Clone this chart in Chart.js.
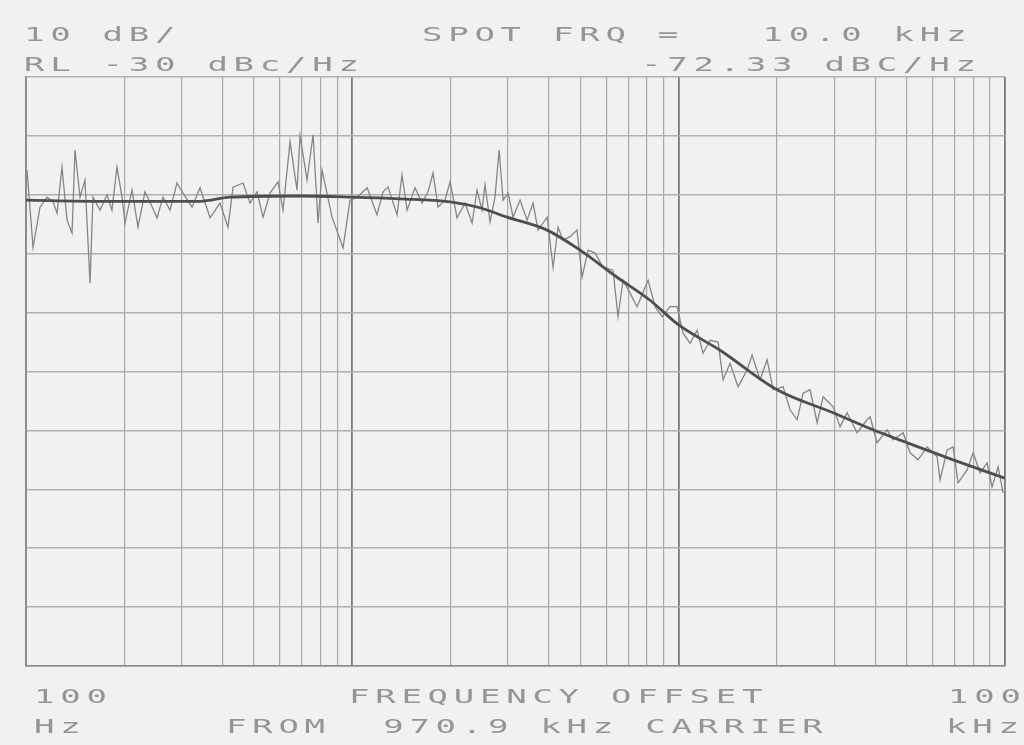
<!DOCTYPE html>
<html>
<head>
<meta charset="utf-8">
<script src="https://cdn.jsdelivr.net/npm/chart.js@4"></script>
<style>
  html, body { margin: 0; padding: 0; background: #f1f1f1; }
  #wrap { position: relative; width: 1024px; height: 745px; overflow: hidden; }
  #plot { position: absolute; left: 0; top: 0; }
  .txt {
    position: absolute;
    font-family: "DejaVu Sans Mono", monospace;
    font-size: 20px;
    line-height: 20px;
    color: #959595;
    white-space: pre;
    letter-spacing: 3.37px;
    transform: scaleX(1.7);
    transform-origin: 0 50%;
  }
</style>
</head>
<body>
<div id="wrap">
  <canvas id="plot" width="1024" height="745"></canvas>
  <div class="txt" style="left:24px; top:24px;">10 dB/</div>
  <div class="txt" style="left:422px; top:24px;">SPOT FRQ =   10.0 kHz</div>
  <div class="txt" style="left:24px; top:54px;">RL -30 dBc/Hz</div>
  <div class="txt" style="left:641px; top:54px;">-72.33 dBC/Hz</div>
  <div class="txt" style="left:34px; top:686px;">100</div>
  <div class="txt" style="left:349px; top:686px;">FREQUENCY OFFSET</div>
  <div class="txt" style="left:948px; top:686px;">100</div>
  <div class="txt" style="left:34px; top:716px;">Hz</div>
  <div class="txt" style="left:226px; top:716px;">FROM  970.9 kHz CARRIER</div>
  <div class="txt" style="left:946px; top:716px;">kHz</div>
</div>
<script>
// measured trace (offset frequency in Hz, level in dBc/Hz)
const noiseFreq = [100.7, 105.1, 110.4, 116.0, 121.0, 124.5, 128.9, 133.6, 138.4, 141.3,
  146.4, 151.6, 157.1, 160.4, 168.6, 177.1, 183.4, 190.0, 196.9, 201.1,
  211.3, 220.4, 231.6, 243.3, 252.0, 263.0, 276.3, 290.2, 302.8, 322.7,
  341.5, 366.5, 393.1, 416.0, 430.9, 462.4, 485.8, 510.5, 532.6, 559.5,
  591.9, 613.2, 644.4, 676.9, 691.5, 726.6, 758.1, 785.3, 807.7, 866.6,
  936.5, 984.0, 1034, 1110, 1190, 1242, 1287, 1371, 1420, 1472,
  1556, 1636, 1706, 1767, 1831, 1923, 1993, 2094, 2215, 2328,
  2411, 2497, 2550, 2642, 2737, 2817, 2897, 3001, 3108, 3266,
  3431, 3580, 3708, 3952, 4122, 4270, 4422, 4647, 4882, 5058,
  5277, 5543, 5867, 6294, 6519, 6753, 7096, 7456, 8058, 8467,
  8896, 9410, 9887, 10316, 10839, 11388, 11880, 12482, 13208, 13680,
  14373, 15206, 16212, 16788, 17766, 18664, 19472, 20893, 21950, 23065,
  24063, 25276, 26566, 27712, 29733, 31235, 32815, 35213, 37786, 38592,
  40551, 43527, 45412, 48732, 51195, 54161, 57713, 61930, 63255, 66463,
  69343, 71830, 76560, 79870, 83900, 88130, 91290, 95260, 98670];
const noiseLevel = [-45.8, -58.9, -52.1, -50.4, -51.2, -53.1, -45.3, -54.3, -56.5, -42.4,
  -50.4, -47.5, -65.0, -50.4, -52.6, -50.0, -52.6, -45.3, -50.4, -54.8,
  -49.2, -55.5, -49.5, -52.0, -53.9, -50.4, -52.6, -48.0, -49.7, -52.1,
  -48.8, -53.9, -51.4, -55.5, -48.7, -48.0, -51.4, -49.5, -53.8, -49.7,
  -47.8, -52.6, -41.0, -49.2, -40.0, -47.5, -39.8, -54.8, -45.8, -53.8,
  -59.0, -50.9, -50.4, -48.8, -53.4, -49.5, -48.7, -53.4, -46.6, -52.6,
  -48.8, -51.4, -49.5, -46.3, -52.1, -50.9, -47.8, -53.9, -51.4, -54.8,
  -49.2, -52.6, -48.3, -54.6, -50.4, -42.4, -50.9, -49.7, -53.8, -50.9,
  -54.3, -51.4, -56.0, -53.8, -62.3, -55.5, -57.7, -57.1, -56.0, -64.0,
  -59.4, -59.9, -62.3, -62.8, -70.7, -64.5, -66.7, -69.0, -64.5, -69.0,
  -70.7, -69.0, -69.0, -73.5, -75.2, -73.0, -76.9, -74.7, -75.0, -81.4,
  -78.6, -82.6, -79.7, -77.2, -81.4, -78.0, -83.1, -82.6, -86.5, -88.2,
  -83.7, -83.1, -88.7, -84.3, -86.0, -89.4, -87.0, -90.4, -88.2, -87.7,
  -92.1, -89.9, -91.6, -90.4, -93.8, -95.0, -92.8, -94.5, -98.4, -93.3,
  -92.8, -98.9, -96.7, -93.8, -97.2, -95.5, -99.6, -96.2, -100.6];

// averaged (smoothed) trace
const smoothFreq = [100, 168.6, 341.5, 421.7, 691.5, 1000, 1400, 1993, 2461, 2979,
  3952, 4986, 6475, 8173, 10000, 13394, 20028, 29733, 39430, 50130, 69340, 100000];
const smoothLevel = [-50.9, -51.1, -51.1, -50.4, -50.2, -50.4, -50.7, -51.2, -52.2, -53.8,
  -56.0, -59.4, -64.0, -67.9, -72.1, -76.4, -83.1, -87.0, -89.9, -92.1, -95.0, -98.1];

// graticule
const freqGrid = [100, 200, 300, 400, 500, 600, 700, 800, 900,
  1000, 2000, 3000, 4000, 5000, 6000, 7000, 8000, 9000,
  10000, 20000, 30000, 40000, 50000, 60000, 70000, 80000, 90000, 100000];
const levelTop = -30;
const levelBottom = -130;
const dbPerDiv = 10;

const toPoints = (xs, ys) => xs.map((x, i) => ({ x: x, y: ys[i] }));
const isDecade = v => [100, 1000, 10000, 100000].includes(v);

new Chart(document.getElementById('plot'), {
  type: 'line',
  data: {
    datasets: [
      {
        label: 'smoothed',
        data: toPoints(smoothFreq, smoothLevel),
        borderColor: '#4e4e4e',
        borderWidth: 2.8,
        pointRadius: 0,
        cubicInterpolationMode: 'monotone',
        fill: false
      },
      {
        label: 'measured',
        data: toPoints(noiseFreq, noiseLevel),
        borderColor: '#858585',
        borderWidth: 1.3,
        pointRadius: 0,
        tension: 0,
        fill: false
      }
    ]
  },
  options: {
    responsive: false,
    animation: false,
    devicePixelRatio: 1,
    layout: { padding: { left: 26, top: 77, right: 19, bottom: 79 } },
    plugins: { legend: { display: false }, tooltip: { enabled: false } },
    scales: {
      x: {
        type: 'logarithmic',
        min: 100,
        max: 100000,
        afterBuildTicks: scale => { scale.ticks = freqGrid.map(v => ({ value: v })); },
        ticks: { display: false, autoSkip: false },
        grid: {
          drawTicks: false,
          tickLength: 0,
          color: ctx => isDecade(ctx.tick && ctx.tick.value) ? '#7a7a7a' : '#a8a8a8',
          lineWidth: ctx => isDecade(ctx.tick && ctx.tick.value) ? 1.8 : 1.2
        },
        border: { display: true, color: '#8a8a8a', width: 1.5 }
      },
      y: {
        min: levelBottom,
        max: levelTop,
        ticks: { display: false, stepSize: dbPerDiv },
        grid: { drawTicks: false, tickLength: 0, color: '#b0b0b0', lineWidth: 1.5 },
        border: { display: true, color: '#8a8a8a', width: 1.5 }
      }
    }
  }
});
</script>
</body>
</html>
